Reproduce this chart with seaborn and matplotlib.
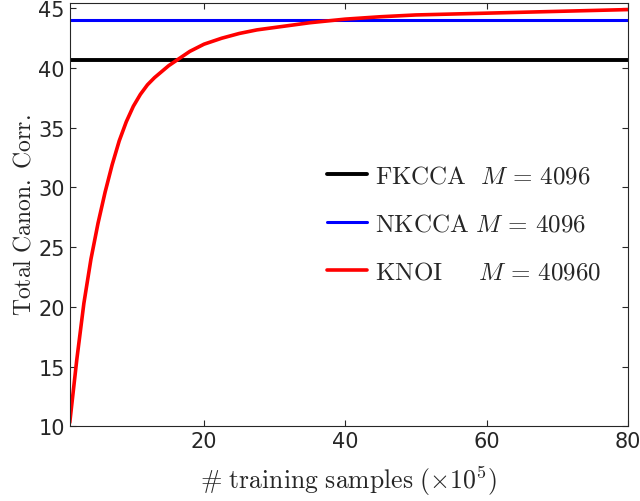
import numpy as np
import pandas as pd
import matplotlib
matplotlib.use("Agg")
import matplotlib.pyplot as plt
import seaborn as sns

# training samples (x 1e5) and total canonical correlation
samples = [1, 2, 3, 4, 5, 6, 7, 8, 9, 10, 11, 12, 13, 14, 15, 16, 18, 20,
           22.5, 25, 27.5, 30, 35, 40, 45, 50, 60, 70, 80]
knoi = [10.3, 15.6, 20.3, 24.0, 27.0, 29.6, 31.9, 33.9, 35.5, 36.8, 37.8,
        38.6, 39.2, 39.7, 40.2, 40.6, 41.4, 42.0, 42.5, 42.9, 43.2, 43.4,
        43.8, 44.1, 44.3, 44.45, 44.6, 44.75, 44.9]
fkcca = 40.7
nkcca = 44.05

labels = [r'$\mathrm{FKCCA}\ \ M\,=\,4096$',
          r'$\mathrm{NKCCA}\ M\,=\,4096$',
          r'$\mathrm{KNOI}\quad\ \ M\,=\,40960$']

sns.set_style("ticks")
plt.rcParams['font.family'] = ['DejaVu Sans']
plt.rcParams['mathtext.fontset'] = 'cm'

fig = plt.figure(figsize=(6.4, 5.02), dpi=100)
ax = fig.add_axes([0.109, 0.149, 0.872, 0.843])

ends = [samples[0], samples[-1]]
sns.lineplot(x=ends, y=[fkcca, fkcca], color='black', lw=2.8, ax=ax, label=labels[0])
sns.lineplot(x=ends, y=[nkcca, nkcca], color='blue', lw=2.2, ax=ax, label=labels[1])
sns.lineplot(x=samples, y=knoi, color='red', lw=2.6, ax=ax, label=labels[2])

ax.set_xlim(1, 80)
ax.set_ylim(10, 45.45)
ax.set_xticks([20, 40, 60, 80])
ax.set_yticks([10, 15, 20, 25, 30, 35, 40, 45])

for side in ['top', 'right', 'left', 'bottom']:
    ax.spines[side].set_visible(True)
    ax.spines[side].set_color('#262626')
    ax.spines[side].set_linewidth(0.8)
ax.tick_params(direction='in', length=4, width=0.8, color='#262626',
               top=True, right=True, labelsize=15, labelcolor='#262626')

ax.set_xlabel(r'$\mathrm{\#\ training\ samples\ (\times 10^5)}$', fontsize=18.5, labelpad=9)
ax.set_ylabel(r'$\mathrm{Total\ Canon.\ Corr.}$', fontsize=17, labelpad=2)

ax.legend(loc='upper left', bbox_to_anchor=(0.421, 0.673), frameon=False,
          fontsize=18, handlelength=1.6, handletextpad=0.3, labelspacing=0.95)

fig.savefig('out.png', dpi=100)
